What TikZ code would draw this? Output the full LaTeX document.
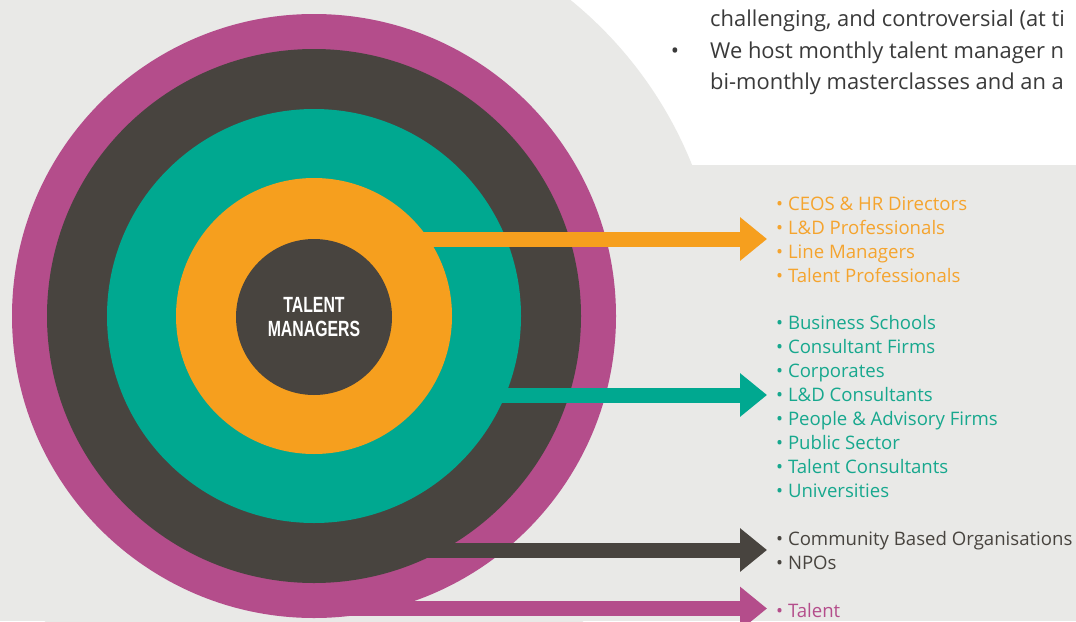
\documentclass[tikz,border=0pt]{standalone}
\usepackage{fontspec}
\setmainfont{Open Sans}
\newfontfamily\hubfont[FakeStretch=0.72]{Liberation Sans}
\usetikzlibrary{calc, arrows.meta}

\definecolor{bgGrey}{HTML}{E9E9E7}
\definecolor{ringPink}{HTML}{B44D8B}
\definecolor{ringDark}{HTML}{48443F}
\definecolor{ringTeal}{HTML}{00A890}
\definecolor{ringOrange}{HTML}{F69F1E}
\definecolor{listOrange}{HTML}{F5A42E}
\definecolor{listTeal}{HTML}{17A88E}
\definecolor{bodyText}{HTML}{3A3A3A}

\begin{document}
\begin{tikzpicture}[x=1pt, y=-1pt,
  disc/.style={circle, fill=#1, inner sep=0pt, outer sep=0pt},
  bar/.style={draw=#1, line width=15pt, -{Triangle[length=27pt, width=42pt]}},
  item/.style={anchor=base west, inner sep=0pt, text=#1, font=\fontsize{18.6}{24}\selectfont},
  body/.style={anchor=base west, inner sep=0pt, text=bodyText, font=\fontsize{21.9}{31}\selectfont}]
  \useasboundingbox (0,0) rectangle (1076,621);

  % Page background and the white panel cut by a big arc
  \fill[bgGrey] (0,0) rectangle (1076,621);
  \fill[white] (560,0) rectangle (1076,165);
  \coordinate (ctr) at (314,316);
  \fill[bgGrey] (ctr) circle (407);

  % Text of the panel (cut at the right edge)
  \node[body] (line-a) at (710,26) {challenging, and controversial (at ti};
  \node[body, anchor=base] (dot-b) at (675,58) {•};
  \node[body] (line-b) at (710,58) {We host monthly talent manager n};
  \node[body] (line-c) at (710,89) {bi-monthly masterclasses and an a};

  % Arrow tips, just left of each list
  \coordinate (tip-lead) at (767,239);
  \coordinate (tip-part) at (767,395);
  \coordinate (tip-comm) at (767,550);
  \coordinate (tip-tal)  at (767,608.5);

  % Rings, outside in; each bar goes under the next ring
  \node[disc=ringPink, minimum size=604pt] (ring-tal) at (ctr) {};
  \draw[bar=ringPink] (ring-tal.center |- tip-tal) -- (tip-tal);

  \node[disc=ringDark, minimum size=534pt] (ring-comm) at (ctr) {};
  \draw[bar=ringDark] (ring-comm.center |- tip-comm) -- (tip-comm);

  \node[disc=ringTeal, minimum size=414pt] (ring-part) at (ctr) {};
  \draw[bar=ringTeal] (ring-part.center |- tip-part) -- (tip-part);

  \node[disc=ringOrange, minimum size=276pt] (ring-lead) at (ctr) {};
  \draw[bar=ringOrange] (ring-lead.center |- tip-lead) -- (tip-lead);

  % Centre disc
  \node[disc=ringDark, minimum size=156pt, text=white, align=center,
        font=\hubfont\bfseries\fontsize{22}{24.5}\selectfont] (hub) at ($(ctr)+(0,1)$) {TALENT\\MANAGERS};

  % Lists, one line every 24
  \foreach \txt [count=\i from 0] in {CEOS \& HR Directors, L\&D Professionals,
      Line Managers, Talent Professionals}
    \node[item=listOrange] (lead-\i) at (776,210+24*\i) {• \txt};

  \foreach \txt [count=\i from 0] in {Business Schools, Consultant Firms, Corporates,
      L\&D Consultants, People \& Advisory Firms, Public Sector, Talent Consultants, Universities}
    \node[item=listTeal] (part-\i) at (776,329+24*\i) {• \txt};

  \foreach \txt [count=\i from 0] in {Community Based Organisations, NPOs}
    \node[item=ringDark] (comm-\i) at (776,545+24*\i) {• \txt};

  \node[item=ringPink] (tal-0) at (776,617) {• Talent};

\end{tikzpicture}
\end{document}
